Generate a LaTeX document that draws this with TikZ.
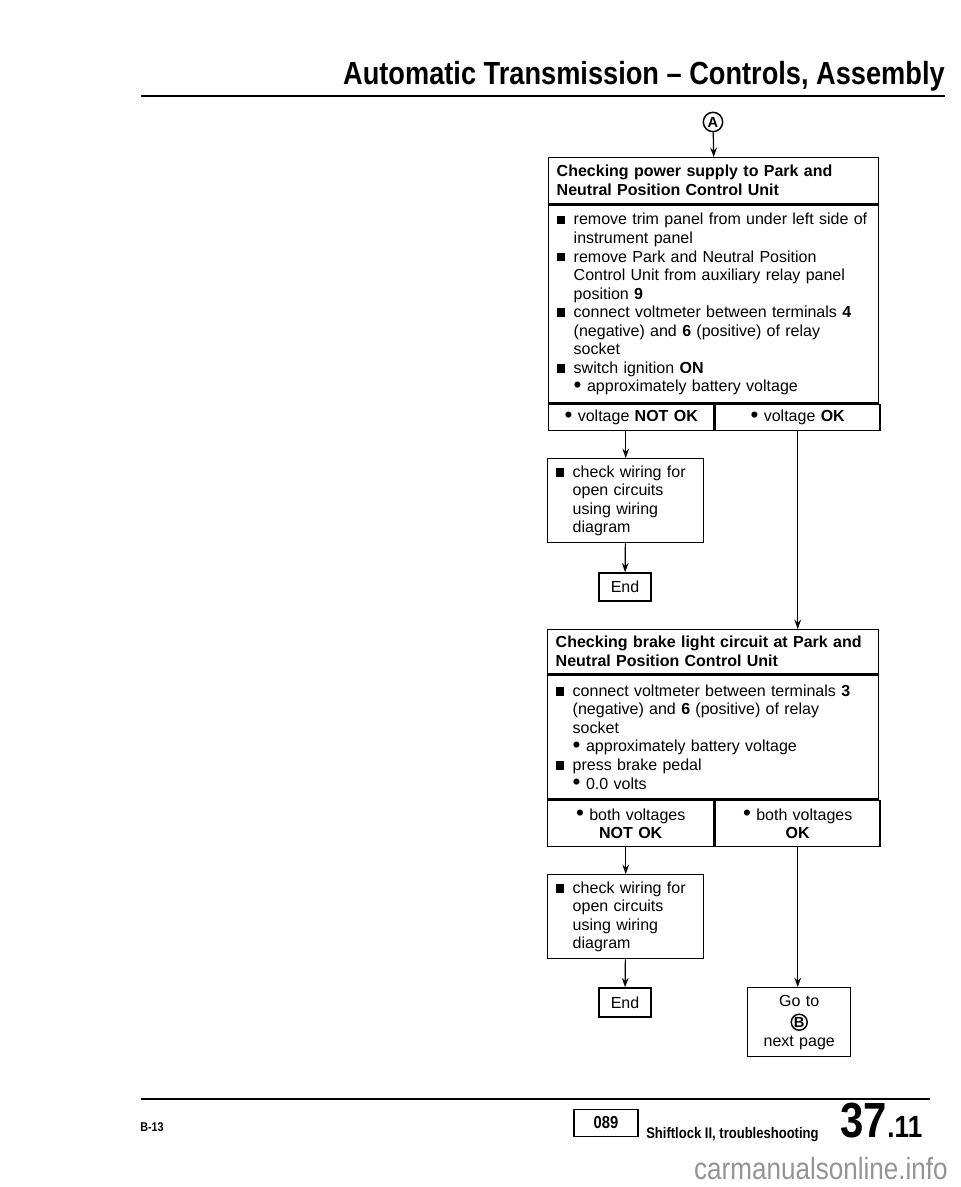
\documentclass[tikz,border=0pt]{standalone}
\usepackage{fontspec}
\setmainfont{Liberation Sans}
\newfontfamily\narrowsf[FakeStretch=0.85]{Liberation Sans}
\usepackage{tikz}
\usetikzlibrary{arrows.meta}

\newcommand{\sqbul}{\makebox[12.75pt][l]{\rule[0.4pt]{6.5pt}{6.5pt}}}
\newcommand{\contd}{\hspace*{12.75pt}}
\newcommand{\bigdot}{\raisebox{-0.5pt}{\scalebox{1.4}{\textbullet}}}
\newcommand{\rdbul}{\makebox[10pt][l]{\bigdot}}

\tikzset{
  flowbox/.style  = {draw, line width=1.1pt, anchor=north west, inner xsep=6pt,
                     inner ysep=0pt, align=left,
                     font=\fontsize{12}{13.9}\selectfont},
  headbox/.style  = {flowbox, font=\fontsize{12}{14.2}\selectfont\bfseries},
  cellbox/.style  = {flowbox, align=center},
  endbox/.style   = {draw, line width=1.1pt, minimum width=39pt, minimum height=21pt,
                     inner sep=0pt, font=\fontsize{12}{13.9}\selectfont},
  circmark/.style = {circle, draw, line width=1.1pt, inner sep=0pt,
                     font=\fontsize{11}{11}\selectfont\bfseries},
  flowarrow/.style= {line width=0.9pt, -{Stealth[length=7pt,width=5pt]}},
}

\begin{document}
\begin{tikzpicture}[x=0.75pt, y=-0.75pt]
  \useasboundingbox (0,0) rectangle (960,1187);

  % page head
  \node[anchor=base east, inner sep=0pt,
        font=\narrowsf\bfseries\fontsize{24}{24}\selectfont] (pagetitle) at (945,85)
    {Automatic Transmission – Controls, Assembly};
  \draw[line width=2.2pt] (141,96) -- (945,96);

  % power supply check
  \node[circmark, minimum size=14.5pt] (circA) at (713,122) {A};
  \node[headbox, text width=235.5pt, minimum height=34.5pt] (t1title) at (548,157)
    {Checking power supply to Park and\\Neutral Position Control Unit};
  \node[flowbox, text width=235.5pt, minimum height=148.5pt] (t1body) at (t1title.south west)
    {\mbox{\sqbul remove trim panel from under left side of}\\
     \contd instrument panel\\
     \sqbul remove Park and Neutral Position\\
     \contd Control Unit from auxiliary relay panel\\
     \contd position \textbf{9}\\
     \sqbul connect voltmeter between terminals \textbf{4}\\
     \contd (negative) and \textbf{6} (positive) of relay\\
     \contd socket\\
     \sqbul switch ignition \textbf{ON}\\
     \contd\rdbul approximately battery voltage};
  \node[cellbox, text width=111.75pt, minimum height=19.5pt] (t1no) at (t1body.south west)
    {\bigdot\ voltage \textbf{NOT OK}};
  \node[cellbox, text width=111.75pt, minimum height=19.5pt] (t1ok) at (t1no.north east)
    {\bigdot\ voltage \textbf{OK}};

  \node[flowbox, text width=105pt, minimum height=63pt] (wire1) at (547,458)
    {\sqbul check wiring for\\
     \contd open circuits\\
     \contd using wiring\\
     \contd diagram};
  \node[endbox] (end1) at (625,587) {End};

  % brake light check
  \node[headbox, text width=236.25pt, minimum height=33pt] (t2title) at (547,629)
    {Checking brake light circuit at Park and\\Neutral Position Control Unit};
  \node[flowbox, text width=236.25pt, minimum height=93pt] (t2body) at (t2title.south west)
    {\sqbul connect voltmeter between terminals \textbf{3}\\
     \contd (negative) and \textbf{6} (positive) of relay\\
     \contd socket\\
     \contd\rdbul approximately battery voltage\\
     \sqbul press brake pedal\\
     \contd\rdbul 0.0 volts};
  \node[cellbox, text width=112.5pt, minimum height=34.5pt] (t2no) at (t2body.south west)
    {\bigdot\ both voltages\\\textbf{NOT OK}};
  \node[cellbox, text width=111.75pt, minimum height=34.5pt] (t2ok) at (t2no.north east)
    {\bigdot\ both voltages\\\textbf{OK}};

  \node[flowbox, text width=105pt, minimum height=63pt] (wire2) at (547,874)
    {\sqbul check wiring for\\
     \contd open circuits\\
     \contd using wiring\\
     \contd diagram};
  \node[endbox, minimum height=21.75pt] (end2) at (625,1002.5) {End};

  \node[cellbox, text width=65.25pt, minimum height=51.75pt,
        font=\fontsize{12}{15}\selectfont] (goto) at (747,987)
    {Go to\\\mbox{}\\next page};
  \node[circmark, minimum size=12pt] (circB) at (goto.center) {B};

  % connectors
  \draw[flowarrow] (circA) -- (t1title.north);
  \draw[flowarrow] (wire1.north |- t1no.south) -- (wire1.north);
  \draw[flowarrow] (t1ok.south) -- (t1ok.south |- t2title.north);
  \draw[flowarrow] (wire1) -- (end1);
  \draw[flowarrow] (wire2.north |- t2no.south) -- (wire2.north);
  \draw[flowarrow] (t2ok.south) -- (t2ok.south |- goto.north);
  \draw[flowarrow] (wire2) -- (end2);

  % page foot
  \draw[line width=2pt] (141,1099) -- (930,1099);
  \node[anchor=base west, inner sep=0pt,
        font=\narrowsf\bfseries\fontsize{9.5}{10}\selectfont] (pagecode) at (140,1131) {B-13};
  \node[draw, line width=1.1pt, minimum width=48pt, minimum height=20.5pt, inner sep=0pt,
        font=\narrowsf\bfseries\fontsize{13}{13}\selectfont] (groupno) at (606,1123) {089};
  \node[anchor=base west, inner sep=0pt,
        font=\narrowsf\bfseries\fontsize{11.5}{11.5}\selectfont] (subject) at (646,1138)
    {Shiftlock II, troubleshooting};
  \node[anchor=base west, inner sep=0pt,
        font=\narrowsf\bfseries\fontsize{37}{37}\selectfont] (repgroup) at (840,1137) {37};
  \node[anchor=base west, inner sep=0pt,
        font=\narrowsf\bfseries\fontsize{23}{23}\selectfont] (pageno) at (repgroup.base east) {.11};
  \node[anchor=base east, inner sep=0pt, text=black!42,
        font=\narrowsf\fontsize{23}{23}\selectfont] (watermark) at (948,1179)
    {carmanualsonline.info};
\end{tikzpicture}
\end{document}
